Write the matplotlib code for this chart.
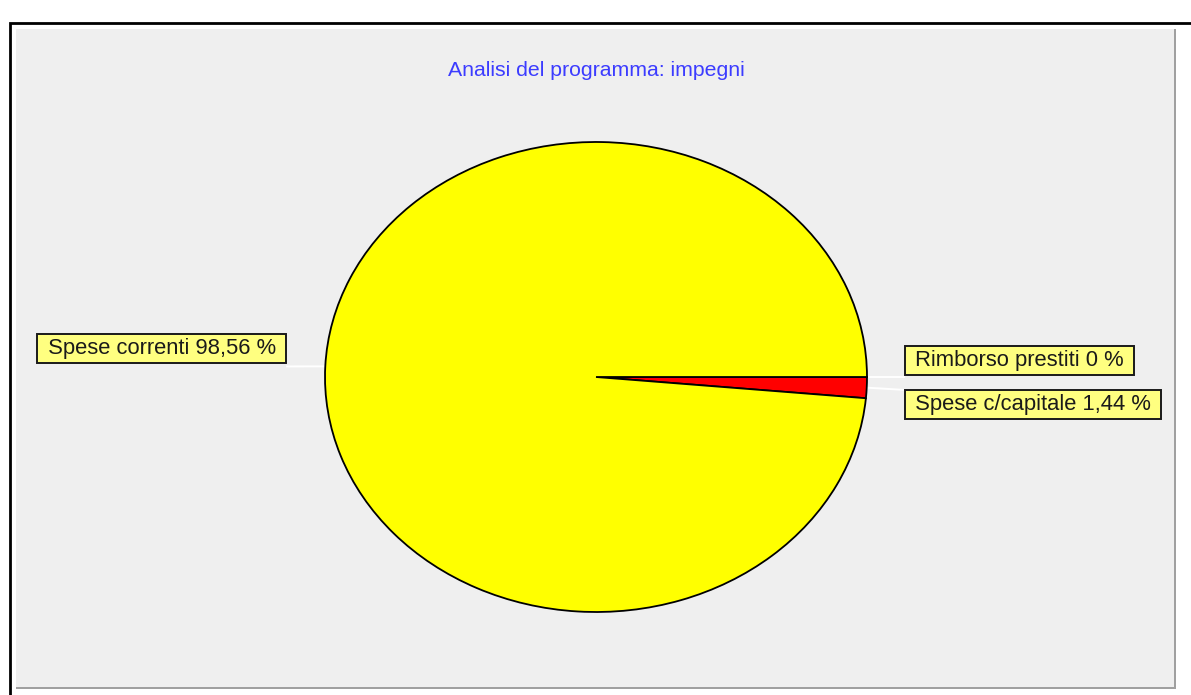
import numpy as np
import matplotlib.pyplot as plt
from matplotlib.patches import Rectangle
from matplotlib.lines import Line2D

# slices, clockwise from 3 o'clock
labels = ['Rimborso prestiti', 'Spese c/capitale', 'Spese correnti']
values = [0.0, 1.44, 98.56]
pct_text = ['0', '1,44', '98,56']
colors = ['#0000ff', '#ff0000', '#ffff00']
title = 'Analisi del programma: impegni'

W, H = 1191, 695
plt.rcParams['font.family'] = ['Liberation Sans', 'DejaVu Sans']

fig = plt.figure(figsize=(W / 100, H / 100), dpi=100)
fig.patch.set_facecolor('white')


def fx(x):
    return x / W


def fy(y):
    return 1 - y / H


# outer frame and grey panel, kept behind the axes
fig.add_artist(Rectangle((fx(10), fy(H + 5)), fx(W + 20), fy(23) - fy(H + 5),
                         facecolor='none', edgecolor='black', lw=2,
                         transform=fig.transFigure, zorder=-3))
fig.add_artist(Rectangle((fx(16), fy(689)), fx(1176) - fx(16), fy(29) - fy(689),
                         facecolor='#a0a0a0', edgecolor='none',
                         transform=fig.transFigure, zorder=-2))
fig.add_artist(Rectangle((fx(16), fy(687)), fx(1174) - fx(16), fy(29) - fy(687),
                         facecolor='#efefef', edgecolor='none',
                         transform=fig.transFigure, zorder=-1))

fig.text(fx(596), fy(70), title, color='#3c3cff', fontsize=15.3,
         ha='center', va='center')

# the pie fills an ellipse, so the axes box is the ellipse's bounding box
cx, cy, rx, ry = 596, 377, 271, 235
ax = fig.add_axes([fx(cx - rx), fy(cy + ry), 2 * rx / W, 2 * ry / H])
ax.set_axis_off()
ax.patch.set_visible(False)
wedges, _ = ax.pie(values, colors=colors, startangle=0, counterclock=False,
                   radius=1, wedgeprops=dict(edgecolor='black', linewidth=1.3))
ax.set_aspect('auto')
ax.set_xlim(-1, 1)
ax.set_ylim(-1, 1)

# label boxes: (text anchor x, y centre, alignment, box edge x, leader end y)
box_pos = {
    'Spese correnti': (-1.159, 0.121, 'right', -1.14, 0.045),
    'Rimborso prestiti': (1.155, 0.070, 'left', 1.137, 0.0),
    'Spese c/capitale': (1.155, -0.117, 'left', 1.137, -0.055),
}
for w, lab, pct in zip(wedges, labels, pct_text):
    mid = np.deg2rad((w.theta1 + w.theta2) / 2)
    tx, ty, ha, ex, ly = box_pos[lab]
    ax.add_line(Line2D([np.cos(mid), ex], [np.sin(mid), ly], color='white',
                       lw=1.4, clip_on=False, zorder=0.5))
    ax.text(tx, ty, f' {lab} {pct} % ', ha=ha, va='center', fontsize=15.8,
            color='#1a1a1a', clip_on=False,
            bbox=dict(boxstyle='square,pad=0.2', facecolor='#ffff80',
                      edgecolor='#1a1a1a', linewidth=1.4))

fig.savefig('out.png', dpi=100)
